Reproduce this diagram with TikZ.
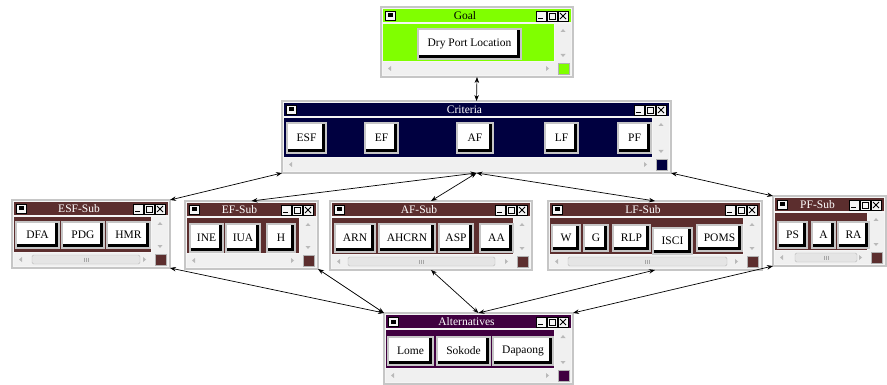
\documentclass[tikz,border=0pt]{standalone}
\usepackage{fontspec}
\setmainfont{Liberation Serif}
\usepackage{tikz}
\usetikzlibrary{arrows.meta,positioning}

\definecolor{goalgreen}{HTML}{80FF00}
\definecolor{critnavy}{HTML}{000040}
\definecolor{subbrown}{HTML}{5C2E2E}
\definecolor{altpurple}{HTML}{400040}

% window: name, left, top, right, bottom, title, bar colour, title colour
\newcommand{\appwin}[8]{%
  \node[winframe, minimum width={#4-#2}, minimum height={#5-#3}] (#1) at ({(#2+#4)/2},{(#3+#5)/2}) {};
  \fill[#7] (#2+2,#3+2) rectangle (#4-2,#3+15);
  \node[wintitle, text=#8] (#1-title) at ({(#2+#4)/2-12},#3+8.5) {#6};
  \draw[widget] (#2+4,#3+4) rectangle (#2+14,#3+13);
  \fill (#2+6.5,#3+6.5) rectangle (#2+11.5,#3+10.5);
  \draw[widget] (#4-37,#3+4) rectangle (#4-27,#3+14);
  \draw[widget] (#4-26,#3+4) rectangle (#4-16,#3+14);
  \draw[widget] (#4-15,#3+4) rectangle (#4-5,#3+14);
  \draw[line width=1.2pt] (#4-35,#3+11.5) -- (#4-30,#3+11.5);
  \draw[line width=0.6pt] (#4-24,#3+6) rectangle (#4-18,#3+12);
  \draw[line width=0.8pt] (#4-13,#3+6) -- (#4-7,#3+12) (#4-13,#3+12) -- (#4-7,#3+6);
  \fill[#7] (#2+2,#3+17) rectangle (#4-19,#5-16);
  \fill[gray!12] (#4-18,#3+17) rectangle (#4-2,#5-2);
  \fill[gray!12] (#2+2,#5-15) rectangle (#4-18,#5-2);
  \fill[gray!55] (#4-10,#3+22) -- ++(-2.5,3) -- ++(5,0) -- cycle;
  \fill[gray!55] (#4-10,#5-20) -- ++(-2.5,-3) -- ++(5,0) -- cycle;
  \fill[gray!55] (#2+7,#5-8.5) -- ++(3,-2.5) -- ++(0,5) -- cycle;
  \fill[gray!55] (#4-24,#5-8.5) -- ++(-3,-2.5) -- ++(0,5) -- cycle;
  \filldraw[fill=#7, draw=gray!60] (#4-15,#5-14) rectangle (#4-4,#5-3);
}
% scroll thumb: left, right, window bottom
\newcommand{\scrollthumb}[3]{%
  \draw[gray!55, fill=gray!20, rounded corners=1.5pt] (#1,#3-13) rectangle (#2,#3-4);
  \foreach \g in {-2,0,2} \draw[gray!70] ({(#1+#2)/2+\g},#3-10.5) -- ++(0,4);
}

\begin{document}
\begin{tikzpicture}[x=1pt, y=-1pt, >={Stealth[length=6pt,width=4.5pt]}, every node/.style={font=\fontsize{11.5}{13}\selectfont}]
% styles
\tikzstyle{winframe}=[rectangle,draw=gray!45,fill=gray!8,line width=1.2pt,inner sep=0pt,outer sep=0pt]
\tikzstyle{wintitle}=[inner sep=0pt]
\tikzstyle{widget}=[draw=black,fill=gray!8,line width=0.5pt]
\tikzstyle{btn}=[rectangle,draw=gray!45,fill=white,line width=2pt,inner sep=0pt,outer sep=0pt,minimum height=28pt,
  path picture={\draw[black,line width=2.8pt] ([xshift=-2.4pt,yshift=-1pt]path picture bounding box.north east) -- ([xshift=-2.4pt,yshift=2.4pt]path picture bounding box.south east) -- ([xshift=1pt,yshift=2.4pt]path picture bounding box.south west);}]
\tikzstyle{link}=[<->,line width=0.7pt]

\useasboundingbox (0,0) rectangle (887,385);

% windows
\appwin{goal}{381}{7}{573}{77}{Goal}{goalgreen}{black}
\appwin{crit}{282}{101}{671}{173}{Criteria}{critnavy}{white}
\appwin{esfsub}{12}{200}{170}{268}{ESF-Sub}{subbrown}{white}
\appwin{efsub}{185}{201}{318}{269}{EF-Sub}{subbrown}{white}
\appwin{afsub}{330}{201}{532}{270}{AF-Sub}{subbrown}{white}
\appwin{lfsub}{548}{201}{762}{270}{LF-Sub}{subbrown}{white}
\appwin{pfsub}{773}{196}{886}{266}{PF-Sub}{subbrown}{white}
\appwin{alt}{384}{313}{573}{384}{Alternatives}{altpurple}{white}

\scrollthumb{32}{140}{268}
\scrollthumb{348}{495}{270}
\scrollthumb{568}{727}{270}
\scrollthumb{795}{857}{266}

% goal
\node[btn,minimum width=103pt,minimum height=30pt] (dpl) at (469.5,44) {Dry Port Location};

% criteria
\node[btn,minimum width=39pt,minimum height=30pt] (esf) at (306.5,138) {ESF};
\node[btn,minimum width=33pt,minimum height=30pt] (ef) at (381.5,138) {EF};
\node[btn,minimum width=36pt,minimum height=30pt] (af) at (475,138) {AF};
\node[btn,minimum width=33pt,minimum height=30pt] (lf) at (561.5,138) {LF};
\node[btn,minimum width=33pt,minimum height=30pt] (pf) at (634.5,138) {PF};

% ESF sub-criteria
\node[btn,minimum width=43pt,minimum height=26pt] (dfa) at (37.5,235) {DFA};
\node[btn,minimum width=42pt,minimum height=26pt,right=3pt of dfa] (pdg) {PDG};
\node[btn,minimum width=43pt,minimum height=26pt,right=3pt of pdg] (hmr) {HMR};

% EF sub-criteria
\node[btn,minimum width=33pt] (ine) at (206.5,238) {INE};
\node[btn,minimum width=34pt,right=3pt of ine] (iua) {IUA};
\node[btn,minimum width=28pt,right=7pt of iua] (h) {H};

% AF sub-criteria
\node[btn,minimum width=40pt] (arn) at (355,238) {ARN};
\node[btn,minimum width=56pt,right=4pt of arn] (ahcrn) {AHCRN};
\node[btn,minimum width=34pt,right=4pt of ahcrn] (asp) {ASP};
\node[btn,minimum width=33pt,right=7pt of asp] (aa) {AA};

% LF sub-criteria
\node[btn,minimum width=28pt,minimum height=26pt] (w) at (566,238) {W};
\node[btn,minimum width=24pt,minimum height=26pt,right=4pt of w] (g) {G};
\node[btn,minimum width=37pt,minimum height=26pt,right=5pt of g] (rlp) {RLP};
\node[btn,minimum width=39pt,minimum height=26pt] (isci) at (672.5,241) {ISCI};
\node[btn,minimum width=45pt,minimum height=26pt] (poms) at (719.5,238) {POMS};

% PF sub-criteria
\node[btn,minimum width=29pt,minimum height=26pt] (ps) at (792.5,235) {PS};
\node[btn,minimum width=23pt,minimum height=26pt,right=5pt of ps] (a) {A};
\node[btn,minimum width=31pt,minimum height=26pt,right=3pt of a] (ra) {RA};

% alternatives
\node[btn,minimum width=45pt] (lome) at (410.5,351) {Lome};
\node[btn,minimum width=53pt,right=4pt of lome] (sokode) {Sokode};
\node[btn,minimum width=60pt,right=3pt of sokode] (dapaong) {Dapaong};

% links goal -- criteria -- sub-criteria
\draw[link] (goal.south) -- (crit.north);
\draw[link] (crit.south west) -- (esfsub.north east);
\foreach \s in {efsub,afsub,lfsub}
  \draw[link] (crit.south) -- (\s.north);
\draw[link] (crit.south east) -- (pfsub.north west);

% links sub-criteria -- alternatives
\foreach \s in {esfsub,efsub}
  \draw[link] (\s.south east) -- (alt.north west);
\foreach \s in {afsub,lfsub}
  \draw[link] (\s.south) -- (alt.north);
\draw[link] (pfsub.south west) -- (alt.north east);

\end{tikzpicture}
\end{document}
